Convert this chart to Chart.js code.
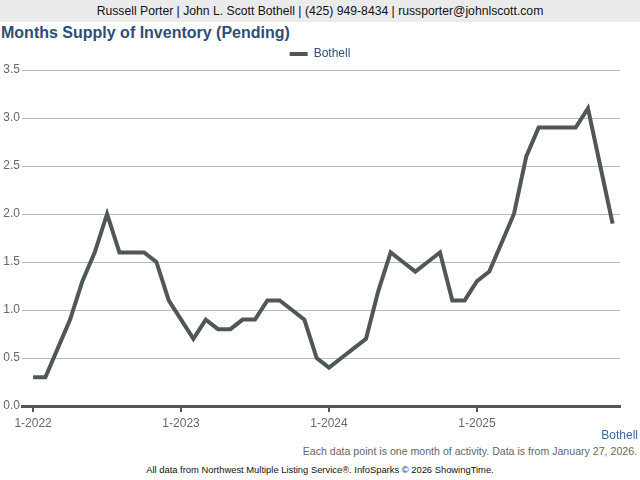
<!DOCTYPE html>
<html>
<head>
<meta charset="utf-8">
<script src="https://cdn.jsdelivr.net/npm/chart.js@4.4.1/dist/chart.umd.min.js"></script>
<style>
  body { margin: 0; width: 640px; height: 480px; background: #fff; font-family: "Liberation Sans", Arial, sans-serif; position: relative; overflow: hidden; }
  #banner { position: absolute; left: 0; top: 0; width: 640px; height: 22px; background: #ebebeb; color: #111; font-size: 12.2px; line-height: 22px; text-align: center; }
  #title { position: absolute; left: 1px; top: 24px; font-size: 16px; font-weight: bold; color: #2e4e75; }
  #wrap { position: absolute; left: 0; top: 44px; width: 640px; height: 386px; }
  #area { position: absolute; right: 2px; top: 428px; font-size: 12px; color: #3b6aa0; }
  #note { position: absolute; right: 3px; top: 445px; font-size: 10.6px; color: #666; }
  #src { position: absolute; left: 0; width: 640px; top: 464px; text-align: center; font-size: 9.4px; color: #111; }
</style>
</head>
<body>
<div id="banner">Russell Porter | John L. Scott Bothell | (425) 949-8434 | russporter@johnlscott.com</div>
<div id="title">Months Supply of Inventory (Pending)</div>
<div id="wrap"><canvas id="myChart"></canvas></div>
<div id="area">Bothell</div>
<div id="note">Each data point is one month of activity. Data is from January 27, 2026.</div>
<div id="src">All data from Northwest Multiple Listing Service®. InfoSparks © 2026 ShowingTime.</div>
<script>
const ctx = document.getElementById('myChart');

// one value per month, 1-2022 .. 12-2025
const bothell = [
  0.3, 0.3, 0.6, 0.9, 1.3, 1.6, 2.0, 1.6, 1.6, 1.6, 1.5, 1.1,
  0.9, 0.7, 0.9, 0.8, 0.8, 0.9, 0.9, 1.1, 1.1, 1.0, 0.9, 0.5,
  0.4, 0.5, 0.6, 0.7, 1.2, 1.6, 1.5, 1.4, 1.5, 1.6, 1.1, 1.1,
  1.3, 1.4, 1.7, 2.0, 2.6, 2.9, 2.9, 2.9, 2.9, 3.1, 2.5, 1.9
]
const yearLabels = ['1-2022', '1-2023', '1-2024', '1-2025']
const yTicks = [0, 0.5, 1, 1.5, 2, 2.5, 3, 3.5]

const points = bothell.map((v, i) => ({x: i, y: v}))

new Chart(ctx, {
  type: 'line',
  data: {
    datasets: [{
      label: 'Bothell',
      data: points,
      borderColor: '#4f5856',
      backgroundColor: '#4f5856',
      borderWidth: 4,
      pointRadius: 0,
      tension: 0
    }]
  },
  options: {
    responsive: true,
    maintainAspectRatio: false,
    animation: false,
    layout: { padding: 0 },
    plugins: {
      legend: {
        labels: {
          usePointStyle: true,
          pointStyle: 'line',
          pointStyleWidth: 18,
          boxHeight: 10,
          color: '#2e4e75',
          padding: 4,
          font: { family: 'Liberation Sans', size: 12, lineHeight: 1 }
        }
      },
      tooltip: { enabled: false }
    },
    scales: {
      x: {
        type: 'linear',
        min: -0.9,
        max: 47.6,
        afterBuildTicks: s => { s.ticks = yearLabels.map((_, i) => ({value: i * 12})) },
        afterFit: s => { s.height = 24 },
        ticks: {
          autoSkip: false,
          maxRotation: 0,
          color: '#666',
          padding: 4,
          font: { family: 'Liberation Sans', size: 12 },
          callback: (v) => yearLabels[v / 12]
        },
        grid: { display: true, drawOnChartArea: false, tickLength: 6, color: '#555', lineWidth: 2 },
        border: { display: true, color: '#555', width: 3 }
      },
      y: {
        min: 0,
        max: 3.5,
        afterBuildTicks: s => { s.ticks = yTicks.map(v => ({value: v})) },
        afterFit: s => { s.width = 22 },
        ticks: {
          color: '#666',
          padding: 2,
          font: { family: 'Liberation Sans', size: 12 },
          callback: v => v.toFixed(1)
        },
        grid: { color: '#bbb', lineWidth: 1, drawTicks: false },
        border: { display: false }
      },
      // empty right-hand spacer so the chart ends short of the edge
      yRight: {
        position: 'right',
        min: 0,
        max: 3.5,
        afterFit: s => { s.width = 20 },
        ticks: { display: false },
        grid: { display: false },
        border: { display: false }
      }
    }
  }
})
</script>
</body>
</html>
